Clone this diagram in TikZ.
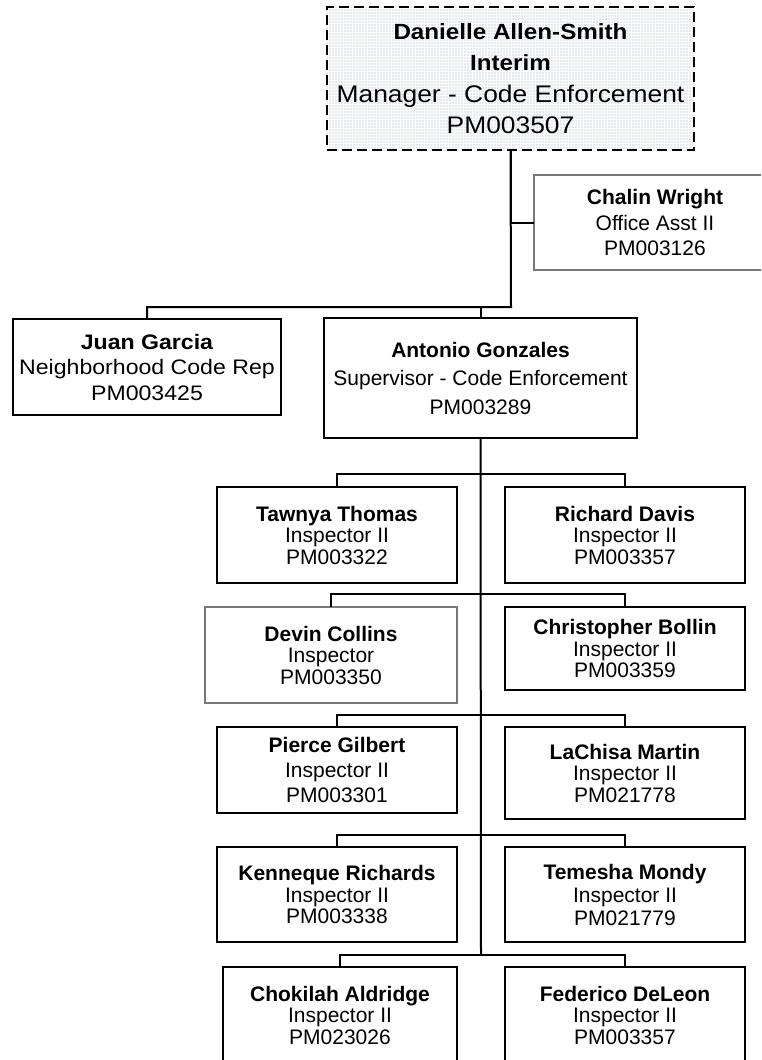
\documentclass[tikz,border=0pt]{standalone}
\usepackage{fontspec}
\setmainfont{Liberation Sans}
\newfontfamily\widesans{Liberation Sans}[FakeStretch=1.1]
\usepackage{xcolor}
\definecolor{dotblue}{RGB}{140, 165, 210}
\definecolor{softgrey}{RGB}{120, 120, 120}
\usepackage{tikz}
\usetikzlibrary{positioning, patterns.meta}
\tikzset{
    personbox/.style={
        draw=black,
        line width=2pt,
        rectangle,
        inner sep=0pt,
        outer sep=0pt,
        align=center,
        font=\fontsize{21}{21.5}\selectfont
    },
    greybox/.style={
        personbox,
        draw=softgrey,
        line width=1.3pt
    },
    headbox/.style={
        draw=black,
        line width=2pt,
        dash pattern=on 10pt off 5pt,
        pattern={Dots[radius=0.55pt, distance=3pt]},
        pattern color=dotblue,
        inner sep=0pt,
        outer sep=0pt,
        align=center,
        font=\widesans\fontsize{24}{31.5}\selectfont
    },
    wire/.style={
        draw=black,
        line width=2pt
    }
}

\begin{document}
\begin{tikzpicture}[x=1pt, y=-1pt]

% ---------------------------------------------------------
% Page
% ---------------------------------------------------------
\fill[white] (0,0) rectangle (761,1060);
\useasboundingbox (0,0) rectangle (761,1060);
\clip (0,0) rectangle (761,1060);

% ---------------------------------------------------------
% Nodes
% ---------------------------------------------------------

% Top: manager
\node[headbox, minimum width=367pt, minimum height=143pt] (boss) at (510.5,78.5) {%
    {\bfseries\fontsize{22}{31.5}\selectfont Danielle Allen-Smith}\\
    {\bfseries\fontsize{22}{31.5}\selectfont Interim}\\
    Manager - Code Enforcement\\
    PM003507
};

% Staff to the side
\node[greybox, minimum width=242pt, minimum height=95pt,
      font=\fontsize{21}{25.5}\selectfont] (chalin) at (655,222.5) {%
    \textbf{Chalin Wright}\\
    Office Asst II\\
    PM003126
};

% Second level
\node[personbox, minimum width=268pt, minimum height=96pt,
      font=\widesans\fontsize{21}{25.5}\selectfont] (juan) at (147,367) {%
    \textbf{Juan Garcia}\\
    Neighborhood Code Rep\\
    PM003425
};

\node[personbox, minimum width=313pt, minimum height=120pt,
      font=\fontsize{21}{28.5}\selectfont] (antonio) at (480.5,378) {%
    \textbf{Antonio Gonzales}\\
    Supervisor - Code Enforcement\\
    PM003289
};

% Inspectors, left column
\node[personbox, minimum width=240pt, minimum height=96pt] (tawnya) at (337,535) {%
    \textbf{Tawnya Thomas}\\
    Inspector II\\
    PM003322
};

\node[greybox, minimum width=252pt, minimum height=96pt] (devin) at (331,655) {%
    \textbf{Devin Collins}\\
    Inspector\\
    PM003350
};

\node[personbox, minimum width=240pt, minimum height=86pt,
      font=\fontsize{21}{25}\selectfont] (pierce) at (337,770) {%
    \textbf{Pierce Gilbert}\\
    Inspector II\\
    PM003301
};

\node[personbox, minimum width=240pt, minimum height=95pt] (kenneque) at (337,894.5) {%
    \textbf{Kenneque Richards}\\
    Inspector II\\
    PM003338
};

\node[personbox, minimum width=234pt, minimum height=96pt] (chokilah) at (340,1015) {%
    \textbf{Chokilah Aldridge}\\
    Inspector II\\
    PM023026
};

% Inspectors, right column
\node[personbox, minimum width=240pt, minimum height=96pt] (richard) at (625,535) {%
    \textbf{Richard Davis}\\
    Inspector II\\
    PM003357
};

\node[personbox, minimum width=240pt, minimum height=83pt] (christopher) at (625,648.5) {%
    \textbf{Christopher Bollin}\\
    Inspector II\\
    PM003359
};

\node[personbox, minimum width=240pt, minimum height=92pt] (lachisa) at (625,773) {%
    \textbf{LaChisa Martin}\\
    Inspector II\\
    PM021778
};

\node[personbox, minimum width=240pt, minimum height=95pt,
      font=\fontsize{21}{23}\selectfont] (temesha) at (625,894.5) {%
    \textbf{Temesha Mondy}\\
    Inspector II\\
    PM021779
};

\node[personbox, minimum width=240pt, minimum height=96pt] (federico) at (625,1015) {%
    \textbf{Federico DeLeon}\\
    Inspector II\\
    PM003357
};

% ---------------------------------------------------------
% Connectors
% ---------------------------------------------------------

\coordinate (bus1) at (511,307);
\coordinate (bus2) at (481,474);
\coordinate (bus3) at (481,594);
\coordinate (bus4) at (481,715);
\coordinate (bus5) at (481,835);
\coordinate (bus6) at (481,955);

% Manager -> assistant, rep, supervisor
\draw[wire] (boss.south) |- (chalin.west);
\draw[wire] (boss.south) -- (bus1) -| (juan.north);
\draw[wire] (bus1 -| antonio.north) -- (antonio.north);

% Supervisor -> inspectors
\draw[wire] (antonio.south) -- (bus6);
\draw[wire] (tawnya.north) |- (bus2) -| (richard.north);
\draw[wire] (devin.north) |- (bus3) -| (christopher.north);
\draw[wire] (pierce.north) |- (bus4) -| (lachisa.north);
\draw[wire] (kenneque.north) |- (bus5) -| (temesha.north);
\draw[wire] (chokilah.north) |- (bus6) -| (federico.north);

\end{tikzpicture}
\end{document}
